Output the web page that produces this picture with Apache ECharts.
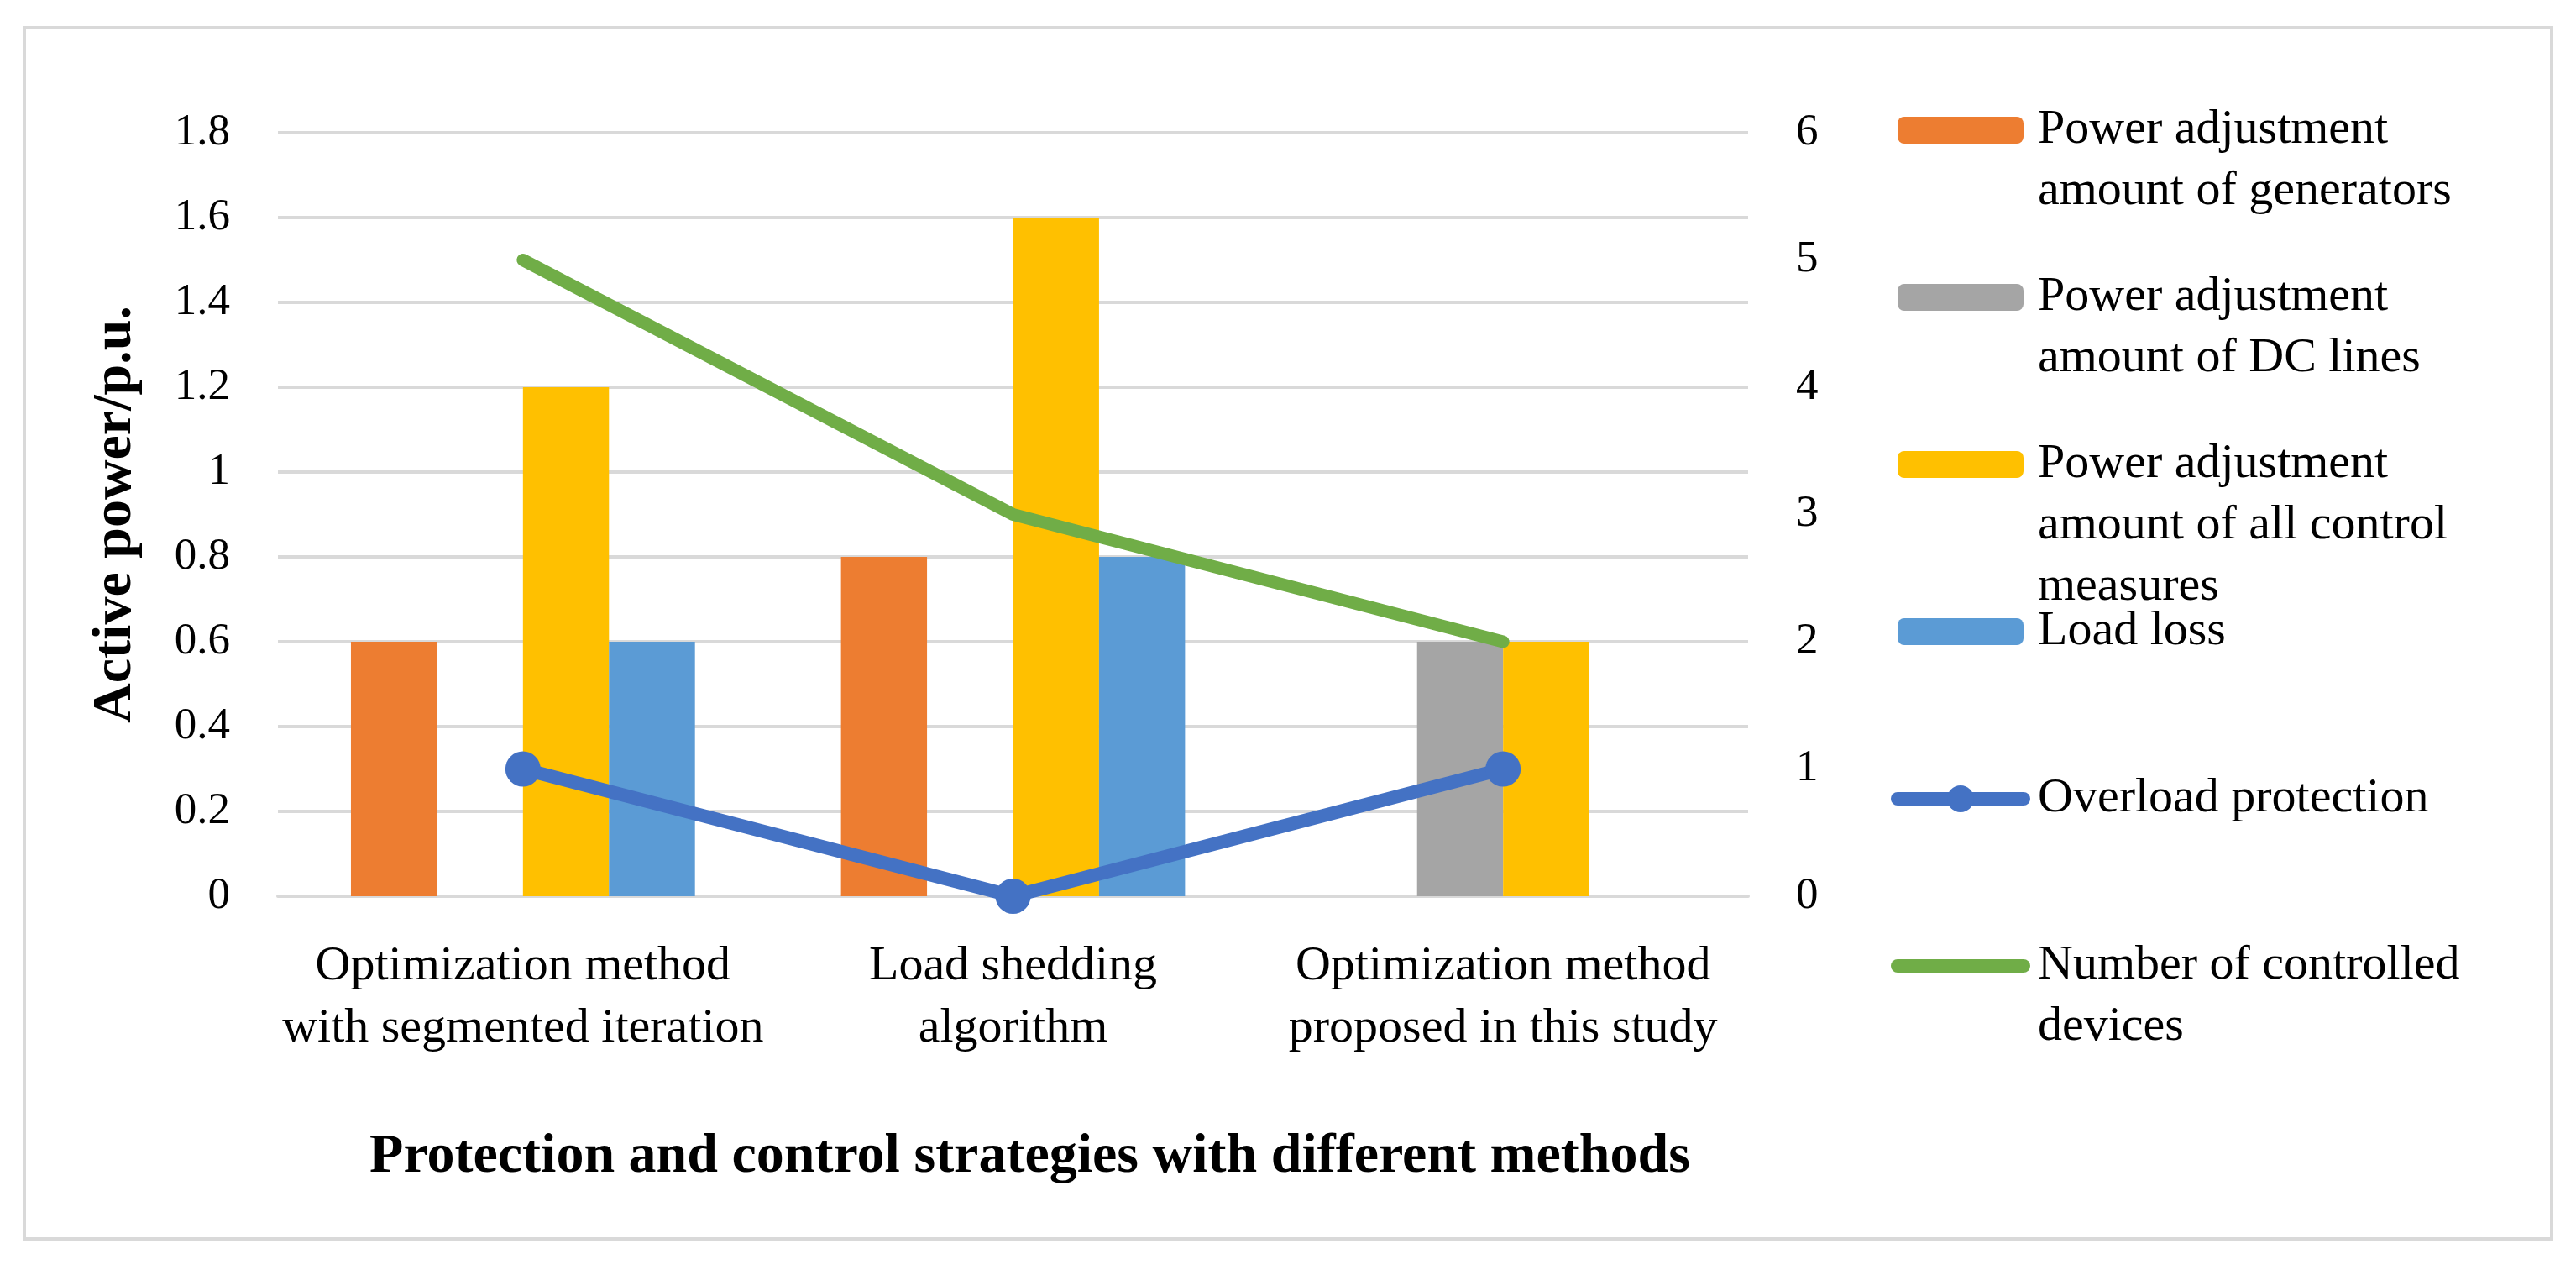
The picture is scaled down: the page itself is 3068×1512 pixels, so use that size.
<!DOCTYPE html>
<html>
<head>
<meta charset="utf-8">
<script src="https://cdn.jsdelivr.net/npm/echarts@6/dist/echarts.min.js"></script>
<style>
html,body{margin:0;padding:0;background:#fff;}
#chart{width:3068px;height:1512px;}
</style>
</head>
<body>
<div id="chart"></div>
<script>
// ---- data ----
const categories = [
  'Optimization method\nwith segmented iteration',
  'Load shedding\nalgorithm',
  'Optimization method\nproposed in this study'
];
const seriesNames = [
  'Power adjustment amount of generators',
  'Power adjustment amount of DC lines',
  'Power adjustment amount of all control measures',
  'Load loss',
  'Overload protection',
  'Number of controlled devices'
];
const legendLabels = [
  'Power adjustment\namount of generators',
  'Power adjustment\namount of DC lines',
  'Power adjustment\namount of all control\nmeasures',
  'Load loss',
  'Overload protection',
  'Number of controlled\ndevices'
];
const generators = [0.6, 0.8, 0];
const dcLines = [0, 0, 0.6];
const allMeasures = [1.2, 1.6, 0.6];
const loadLoss = [0.6, 0.8, 0];
const overloadProtection = [1, 0, 1];
const controlledDevices = [5, 3, 2];
const leftAxis = {min: 0, max: 1.8, interval: 0.2};
const rightAxis = {min: 0, max: 6, interval: 1};

// ---- styling ----
const FONT = 'Liberation Serif';
const colors = ['#ED7D31', '#A5A5A5', '#FFC000', '#5B9BD5', '#4472C4', '#70AD47'];
const LH = 73;
const legendCenters = [155, 354, 553, 752, 951, 1150];

const legends = seriesNames.map(function (name, i) {
  const n = legendLabels[i].split('\n').length;
  const isLine = i >= 4;
  const lead = new Array(n).join('\n');
  return {
    show: true,
    orient: 'vertical',
    left: isLine ? 2252 : 2260,
    top: legendCenters[i] - (2 * n - 1) * LH / 2,
    padding: 0,
    itemWidth: 150,
    itemHeight: isLine ? 40 : 32,
    selectedMode: false,
    data: [name],
    formatter: function () { return lead + legendLabels[i]; },
    lineStyle: {width: 16, cap: 'round'},
    itemStyle: i === 5 ? {opacity: 0} : {},
    textStyle: {
      fontFamily: FONT,
      fontSize: 58,
      color: '#000',
      lineHeight: LH,
      padding: [0, 0, 0, 12],
      backgroundColor: 'rgba(255,255,255,0)'
    }
  };
});

const chart = echarts.init(document.getElementById('chart'), null, {renderer: 'canvas'});
chart.setOption({
  backgroundColor: '#fff',
  animation: false,
  color: colors,
  textStyle: {fontFamily: FONT},
  graphic: [{
    type: 'rect',
    shape: {x: 29, y: 33, width: 3010, height: 1442},
    style: {fill: 'none', stroke: '#D9D9D9', lineWidth: 4},
    silent: true
  }],
  legend: legends,
  grid: {left: 331, right: 986, top: 158, bottom: 445, containLabel: false},
  xAxis: {
    type: 'category',
    data: categories,
    name: 'Protection and control strategies with different methods',
    nameLocation: 'middle',
    nameGap: 276,
    nameTextStyle: {fontFamily: FONT, fontSize: 66, fontWeight: 'bold', color: '#000', lineHeight: 70, padding: [0, 0, 0, 40]},
    axisLine: {show: true, lineStyle: {color: '#D9D9D9', width: 4}},
    axisTick: {show: false},
    axisLabel: {interval: 0, fontFamily: FONT, fontSize: 58, lineHeight: 74, color: '#000', margin: 47}
  },
  yAxis: [{
    type: 'value',
    min: leftAxis.min, max: leftAxis.max, interval: leftAxis.interval,
    name: 'Active power/p.u.',
    nameLocation: 'middle',
    nameRotate: 90,
    nameGap: 158,
    nameTextStyle: {fontFamily: FONT, fontSize: 66, fontWeight: 'bold', color: '#000', lineHeight: 70},
    axisLine: {show: false},
    axisTick: {show: false},
    splitLine: {show: true, lineStyle: {color: '#D9D9D9', width: 4}},
    axisLabel: {fontFamily: FONT, fontSize: 53, color: '#000', margin: 57}
  }, {
    type: 'value',
    position: 'right',
    min: rightAxis.min, max: rightAxis.max, interval: rightAxis.interval,
    axisLine: {show: false},
    axisTick: {show: false},
    splitLine: {show: false},
    axisLabel: {fontFamily: FONT, fontSize: 53, color: '#000', margin: 57}
  }],
  series: [
    {name: seriesNames[0], type: 'bar', data: generators, barGap: '0%', barCategoryGap: '29.8%', itemStyle: {color: colors[0]}},
    {name: seriesNames[1], type: 'bar', data: dcLines, barGap: '0%', barCategoryGap: '29.8%', itemStyle: {color: colors[1]}},
    {name: seriesNames[2], type: 'bar', data: allMeasures, barGap: '0%', barCategoryGap: '29.8%', itemStyle: {color: colors[2]}},
    {name: seriesNames[3], type: 'bar', data: loadLoss, barGap: '0%', barCategoryGap: '29.8%', itemStyle: {color: colors[3]}},
    {name: seriesNames[4], type: 'line', yAxisIndex: 1, data: overloadProtection,
      symbol: 'circle', symbolSize: 42, showSymbol: true,
      itemStyle: {color: colors[4]},
      lineStyle: {color: colors[4], width: 16, cap: 'round', join: 'round'}, z: 3},
    {name: seriesNames[5], type: 'line', yAxisIndex: 1, data: controlledDevices,
      symbol: 'none',
      itemStyle: {color: colors[5]},
      lineStyle: {color: colors[5], width: 15, cap: 'round', join: 'round'}, z: 3}
  ]
});
</script>
</body>
</html>
